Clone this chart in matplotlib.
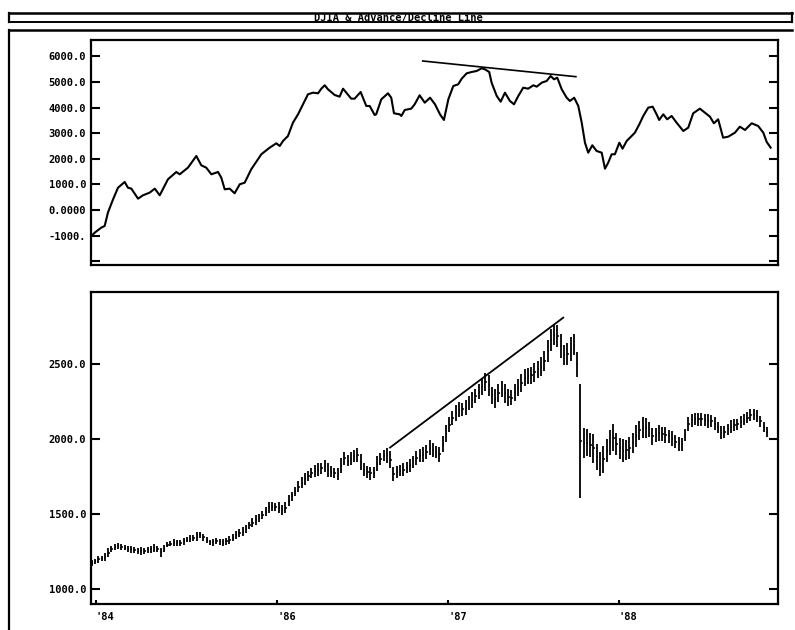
import numpy as np
import pandas as pd
import matplotlib
matplotlib.use("Agg")
import matplotlib.pyplot as plt
from matplotlib.lines import Line2D

TITLE = "DJIA & Advance/Decline Line"

# ---- Advance/Decline line (top panel): time in decimal years, value ----
ad_time = [
    1984.914, 1984.934, 1984.972, 1984.992, 1985.011, 1985.041, 1985.070, 1985.109,
    1985.128, 1985.148, 1985.187, 1985.216, 1985.255, 1985.285, 1985.314, 1985.362,
    1985.411, 1985.431, 1985.479, 1985.528, 1985.557, 1985.586, 1985.616, 1985.655,
    1985.674, 1985.694, 1985.723, 1985.752, 1985.782, 1985.811, 1985.849, 1985.908,
    1985.957, 1985.996, 1986.016, 1986.035, 1986.064, 1986.093, 1986.123, 1986.152,
    1986.181, 1986.210, 1986.240, 1986.259, 1986.279, 1986.298, 1986.337, 1986.366,
    1986.386, 1986.434, 1986.454, 1986.489, 1986.522, 1986.542, 1986.571, 1986.580,
    1986.610, 1986.649, 1986.668, 1986.684, 1986.717, 1986.727, 1986.747, 1986.785,
    1986.805, 1986.834, 1986.864, 1986.895, 1986.924, 1986.953, 1986.976, 1987.002,
    1987.031, 1987.060, 1987.080, 1987.109, 1987.138, 1987.168, 1987.197, 1987.216,
    1987.241, 1987.255, 1987.285, 1987.308, 1987.333, 1987.362, 1987.386, 1987.411,
    1987.440, 1987.469, 1987.499, 1987.519, 1987.548, 1987.577, 1987.600, 1987.620,
    1987.639, 1987.665, 1987.694, 1987.713, 1987.738, 1987.762, 1987.782, 1987.801,
    1987.820, 1987.844, 1987.869, 1987.899, 1987.918, 1987.937, 1987.957, 1987.976,
    1988.002, 1988.021, 1988.045, 1988.074, 1988.093, 1988.119, 1988.142, 1988.171,
    1988.197, 1988.220, 1988.235, 1988.259, 1988.282, 1988.308, 1988.337, 1988.376,
    1988.405, 1988.434, 1988.473, 1988.503, 1988.532, 1988.555, 1988.580, 1988.609,
    1988.639, 1988.678, 1988.707, 1988.737, 1988.776, 1988.814, 1988.844, 1988.864,
    1988.887,
]
ad_value = [
    -1016, -886, -690, -625, -104, 416, 870, 1094,
    870, 833, 442, 573, 677, 833, 573, 1198,
    1484, 1393, 1653, 2109, 1745, 1653, 1393, 1484,
    1263, 807, 833, 651, 1003, 1067, 1588, 2175,
    2434, 2604, 2500, 2695, 2890, 3410, 3737, 4128,
    4519, 4582, 4558, 4738, 4871, 4714, 4492, 4426,
    4738, 4348, 4348, 4609, 4062, 4062, 3711, 3737,
    4323, 4558, 4386, 3777, 3737, 3672, 3906, 3958,
    4128, 4480, 4191, 4386, 4128, 3737, 3515, 4323,
    4843, 4910, 5128, 5337, 5390, 5430, 5535, 5494,
    5390, 4973, 4453, 4230, 4582, 4258, 4128, 4453,
    4777, 4738, 4871, 4817, 4973, 5039, 5234, 5105,
    5168, 4714, 4386, 4258, 4386, 4062, 3410, 2629,
    2238, 2527, 2305, 2238, 1613, 1848, 2175, 2175,
    2629, 2394, 2695, 2890, 3019, 3347, 3672, 3997,
    4036, 3737, 3515, 3737, 3542, 3672, 3410, 3086,
    3215, 3777, 3958, 3800, 3645, 3386, 3542, 2824,
    2863, 3019, 3254, 3125, 3386, 3281, 3019, 2656,
    2434,
]
ad_trend_time = [1986.852, 1987.748]
ad_trend_value = [5820, 5207]

# ---- DJIA weekly high/low bars (bottom panel) ----
week_start = "1984-12-01"
n_weeks = 207
djia_close = [
    1175, 1188, 1200, 1205, 1215, 1245, 1268, 1280, 1289, 1283,
    1278, 1272, 1267, 1262, 1256, 1255, 1256, 1262, 1267, 1274,
    1270, 1246, 1272, 1298, 1305, 1310, 1311, 1311, 1320, 1331,
    1338, 1343, 1352, 1360, 1346, 1329, 1314, 1315, 1321, 1317,
    1312, 1319, 1330, 1345, 1362, 1375, 1385, 1403, 1426, 1444,
    1461, 1477, 1494, 1518, 1546, 1552, 1551, 1544, 1529, 1545,
    1590, 1619, 1650, 1684, 1711, 1734, 1756, 1777, 1791, 1797,
    1807, 1821, 1795, 1783, 1776, 1768, 1825, 1874, 1858, 1872,
    1891, 1898, 1850, 1797, 1782, 1773, 1777, 1838, 1870, 1892,
    1895, 1865, 1769, 1783, 1792, 1798, 1811, 1826, 1849, 1877,
    1892, 1898, 1915, 1945, 1930, 1915, 1900, 1971, 2038, 2097,
    2142, 2175, 2198, 2200, 2212, 2242, 2264, 2289, 2318, 2353,
    2381, 2360, 2293, 2271, 2309, 2336, 2306, 2281, 2277, 2313,
    2345, 2376, 2412, 2422, 2427, 2448, 2466, 2485, 2521, 2589,
    2661, 2698, 2690, 2620, 2562, 2570, 2602, 2630, 2500, 1990,
    1978, 1978, 1962, 1940, 1880, 1833, 1866, 1925, 1980, 2010,
    1970, 1940, 1923, 1928, 1943, 1975, 2022, 2060, 2076, 2078,
    2068, 2020, 2030, 2043, 2035, 2027, 2020, 2003, 1985, 1967,
    1967, 2030, 2105, 2127, 2133, 2133, 2133, 2128, 2122, 2122,
    2104, 2076, 2045, 2048, 2068, 2085, 2094, 2101, 2115, 2130,
    2145, 2160, 2163, 2156, 2120, 2080, 2050,
]
djia_span = [
    40, 34, 48, 38, 52, 56, 44, 38, 34, 42, 30, 40, 46, 34, 42, 50, 38, 34, 46, 52,
    42, 58, 50, 38, 34, 46, 38, 42, 50, 34, 46, 38, 54, 42, 50, 38, 34, 46, 42, 38,
    50, 42, 54, 46, 58, 50, 62, 54, 46, 58, 66, 54, 50, 62, 70, 58, 54, 76, 62, 70,
    72, 66, 58, 76, 70, 80, 72, 66, 78, 84, 70, 80, 92, 74, 66, 84, 96, 88, 76, 84,
    80, 92, 108, 84, 76, 88, 74, 96, 84, 76, 100, 116, 92, 80, 74, 84, 76, 88, 80, 92,
    84, 96, 88, 100, 92, 84, 96, 108, 116, 100, 92, 104, 96, 88, 100, 92, 108, 96, 104, 112,
    120, 136, 112, 128, 116, 104, 124, 112, 100, 116, 108, 120, 112, 104, 116, 128, 112, 124, 136, 146,
    150, 138, 150, 160, 134, 146, 156, 142, 168,
    760,
    200, 180, 166, 190, 172, 160, 176, 158, 168, 180, 150, 140, 154, 132, 142, 136, 150, 128, 140, 132,
    100, 112, 96, 108, 92, 104, 90, 100, 86, 96, 90, 84, 94, 86, 80, 90, 84, 78, 88, 80,
    84, 74, 88, 80, 74, 84, 78, 72, 80, 74, 68, 78, 72, 80, 74, 68, 64,
]
djia_trend_time = [1986.661, 1987.674]
djia_trend_value = [1945, 2811]

# ---- axes ticks ----
ad_ticks = [-2000, -1000, 0, 1000, 2000, 3000, 4000, 5000, 6000]
ad_tick_labels = ["", "-1000.", "0.0000", "1000.0", "2000.0", "3000.0",
                  "4000.0", "5000.0", "6000.0"]
djia_ticks = [1000, 1500, 2000, 2500]
djia_tick_labels = ["1000.0", "1500.0", "2000.0", "2500.0"]
x_ticks = [1984.94, 1986.0, 1987.0, 1988.0]
x_tick_labels = ["'84", "'86", "'87", "'88"]

# ------------------------------------------------------------------
W, H = 795, 630
FONT = dict(family="DejaVu Sans Mono", weight="bold", size=7.5)

dates = pd.date_range(week_start, periods=n_weeks, freq="7D")
wk_t = np.array([d.year + (d.dayofyear - 0.5) / (366 if d.is_leap_year else 365)
                 for d in dates])
close = np.array(djia_close, dtype=float)
span = np.array(djia_span, dtype=float)
high = close + span / 2
low = close - span / 2

fig = plt.figure(figsize=(W / 100, H / 100), dpi=100)

def fx(px):
    return px / W

def fy(py):
    return 1 - py / H

XL = (1984.912, 1988.93)

ax1 = fig.add_axes([fx(91), fy(265), fx(778) - fx(91), fy(40) - fy(265)])
ax2 = fig.add_axes([fx(91), fy(604), fx(778) - fx(91), fy(292) - fy(604)])

# top panel
ax1.plot(ad_time, ad_value, color="black", lw=1.5, solid_joinstyle="round")
ax1.plot(ad_trend_time, ad_trend_value, color="black", lw=1.2)
ax1.set_xlim(*XL)
ax1.set_ylim(-2150, 6640)
ax1.set_yticks(ad_ticks)
ax1.set_yticklabels(ad_tick_labels, fontdict=FONT)
ax1.tick_params(axis="y", direction="in", length=6.5, width=1.5,
                left=True, right=True, pad=3.5)
ax1.tick_params(axis="x", bottom=False, top=False, labelbottom=False)

# bottom panel: high/low bars with a short close tick
ax2.vlines(wk_t, low, high, color="black", lw=1.3)
ax2.hlines(close, wk_t, wk_t + 0.008, color="black", lw=1.1)
ax2.plot(djia_trend_time, djia_trend_value, color="black", lw=1.3)
ax2.set_xlim(*XL)
ax2.set_ylim(902, 2982)
ax2.set_yticks(djia_ticks)
ax2.set_yticklabels(djia_tick_labels, fontdict=FONT)
ax2.tick_params(axis="y", direction="in", length=6.5, width=1.5,
                left=True, right=True, pad=3.5)
ax2.set_xticks(x_ticks)
ax2.set_xticklabels(x_tick_labels, fontdict=FONT, ha="left")
ax2.tick_params(axis="x", direction="in", length=3, width=1.5, pad=6,
                bottom=True, top=False)

for ax in (ax1, ax2):
    for s in ax.spines.values():
        s.set_linewidth(1.6)

# outer frame and title bar
def fline(x0, y0, x1, y1, lw=1.6):
    fig.add_artist(Line2D([fx(x0), fx(x1)], [fy(y0), fy(y1)],
                          color="black", lw=lw, transform=fig.transFigure))

fline(9, 13, 792, 13, 1.8)
fline(9, 22, 792, 22, 1.4)
fline(9, 13, 9, 22)
fline(792, 13, 792, 22)
fline(9, 30, 792, 30, 1.8)
fline(9, 30, 9, 630)

fig.text(fx(398), fy(17.5), TITLE, ha="center", va="center", **FONT)

fig.savefig("out.png", dpi=100)
